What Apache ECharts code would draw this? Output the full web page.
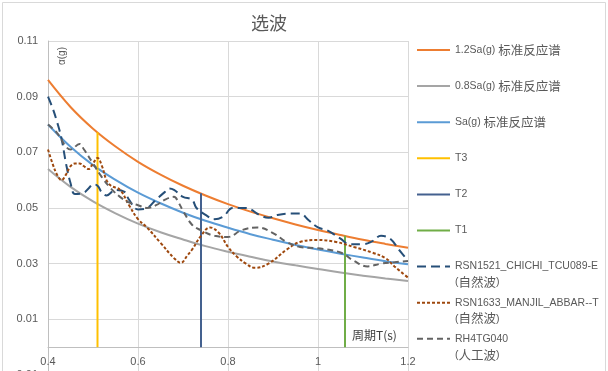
<!DOCTYPE html>
<html><head><meta charset="utf-8">
<script src="https://cdn.jsdelivr.net/npm/echarts@6/dist/echarts.min.js"></script>
<style>html,body{margin:0;padding:0;background:#fff}#c{width:608px;height:371px}</style>
</head><body><div id="c"></div>
<script>
const chartTitle = '选波';
const xAxisName = '周期T(s)';
const yAxisName = 'α(g)';
const xTicks = [0.4, 0.6, 0.8, 1.0, 1.2];
const yTicks = [-0.01, 0.01, 0.03, 0.05, 0.07, 0.09, 0.11];

const specT = [0.40,0.45,0.50,0.55,0.60,0.65,0.70,0.75,0.80,0.85,0.90,0.95,1.00,1.05,1.10,1.15,1.20];
const sa12 = [0.0960,0.0863,0.0785,0.0721,0.0666,0.0620,0.0580,0.0545,0.0514,0.0487,0.0463,0.0441,0.0421,0.0403,0.0386,0.0371,0.0357];
const sa08 = [0.0640,0.0576,0.0524,0.0481,0.0444,0.0413,0.0387,0.0363,0.0343,0.0325,0.0308,0.0294,0.0281,0.0268,0.0257,0.0247,0.0238];
const sa10 = [0.0800,0.0720,0.0654,0.0601,0.0555,0.0517,0.0483,0.0454,0.0429,0.0406,0.0386,0.0367,0.0351,0.0336,0.0322,0.0309,0.0298];

const vNames = ['T3', 'T2', 'T1'];
const vT = [0.51, 0.74, 1.06];
const vTop = [0.0772, 0.0553, 0.0400];

const chichiT = [0.40,0.41,0.42,0.43,0.44,0.45,0.46,0.48,0.49,0.50,0.51,0.52,0.53,0.55,0.57,0.58,0.60,0.62,0.64,0.66,0.67,0.68,0.70,0.72,0.73,0.75,0.77,0.79,0.81,0.84,0.87,0.89,0.91,0.94,0.96,0.98,1.00,1.02,1.05,1.07,1.10,1.12,1.14,1.16,1.18,1.20];
const chichiV = [0.090,0.086,0.081,0.075,0.066,0.059,0.055,0.0555,0.057,0.0585,0.058,0.0555,0.0545,0.0565,0.0558,0.053,0.0495,0.050,0.053,0.0558,0.057,0.0565,0.054,0.053,0.050,0.0475,0.046,0.047,0.050,0.050,0.0475,0.0465,0.0475,0.048,0.048,0.0455,0.043,0.042,0.039,0.037,0.037,0.038,0.040,0.039,0.035,0.031];

const manjilT = [0.40,0.41,0.42,0.43,0.44,0.45,0.46,0.47,0.48,0.49,0.50,0.51,0.52,0.53,0.54,0.56,0.58,0.60,0.62,0.65,0.68,0.695,0.71,0.72,0.74,0.76,0.78,0.80,0.82,0.84,0.86,0.89,0.93,0.96,1.00,1.04,1.08,1.12,1.15,1.17,1.20];
const manjilV = [0.071,0.066,0.062,0.060,0.062,0.065,0.066,0.066,0.065,0.064,0.066,0.068,0.065,0.060,0.058,0.0565,0.051,0.046,0.043,0.0375,0.032,0.0303,0.033,0.035,0.040,0.043,0.041,0.036,0.0325,0.030,0.0285,0.030,0.035,0.0378,0.0385,0.0378,0.036,0.034,0.032,0.029,0.025];

const rhT = [0.40,0.42,0.43,0.44,0.45,0.47,0.48,0.50,0.52,0.54,0.56,0.58,0.60,0.62,0.64,0.66,0.68,0.69,0.70,0.72,0.74,0.77,0.80,0.83,0.865,0.90,0.93,0.96,1.00,1.05,1.08,1.11,1.14,1.17,1.20];
const rhV = [0.080,0.077,0.0745,0.072,0.071,0.073,0.071,0.066,0.061,0.057,0.054,0.052,0.051,0.050,0.051,0.053,0.054,0.052,0.049,0.044,0.042,0.040,0.0396,0.042,0.043,0.041,0.0378,0.036,0.0355,0.034,0.031,0.029,0.030,0.0305,0.031];

const seriesNames = ['1.2Sa(g) 标准反应谱','0.8Sa(g) 标准反应谱','Sa(g) 标准反应谱','T3','T2','T1','RSN1521_CHICHI_TCU089-E\n(自然波)','RSN1633_MANJIL_ABBAR--T\n(自然波)','RH4TG040\n(人工波)'];
const seriesColors = ['#ED7D31','#A5A5A5','#5B9BD5','#FFC000','#44618F','#70AD47','#264F78','#9E480E','#636363'];
const seriesDash = ['solid','solid','solid','solid','solid','solid',[9,5],[3,2],[6,4]];

const pairs = (xs, ys) => xs.map((x, i) => [x, ys[i]]);
const LAT = 'Liberation Sans, Arial, sans-serif';
const CJK = 'Noto Sans CJK SC, sans-serif';
const GRID = {left: 48, top: 41, width: 360, height: 334};
// distance from the grid bottom (y = -0.01) up to the y = 0 line
const zeroOffset = -GRID.height * (0 - yTicks[0]) / (yTicks[yTicks.length - 1] - yTicks[0]);

const series = [];
[sa12, sa08, sa10].forEach((arr, i) => {
  series.push({name: seriesNames[i], type: 'line', data: pairs(specT, arr), smooth: 0.4, showSymbol: false,
    lineStyle: {color: seriesColors[i], width: 2}, z: 2 + i});
});
vT.forEach((t, i) => {
  series.push({name: seriesNames[3 + i], type: 'line', data: [[t, 0], [t, vTop[i]]], showSymbol: false,
    lineStyle: {color: seriesColors[3 + i], width: 2}, z: 5});
});
[[chichiT, chichiV], [manjilT, manjilV], [rhT, rhV]].forEach((d, i) => {
  series.push({name: seriesNames[6 + i], type: 'line', data: pairs(d[0], d[1]), smooth: 0.4, showSymbol: false,
    lineStyle: {color: seriesColors[6 + i], width: 2, type: seriesDash[6 + i]}, z: 6 + i});
});

function richLine(s) {
  return s.replace(/([\u4e00-\u9fff]+)|([^\u4e00-\u9fff]+)/g, (m, c, a) => c ? '{c|' + c + '}' : '{a|' + a + '}');
}
const legendRich = {a: {fontSize: 10.5, fontFamily: LAT, fill: '#595959'}, c: {fontSize: 12.5, fontFamily: CJK, fill: '#595959'}};
const graphics = [
  {type: 'rect', shape: {x: 2.5, y: 2.5, width: 603, height: 420}, style: {fill: 'none', stroke: '#D9D9D9', lineWidth: 1}, silent: true},
  {type: 'text', x: 62, y: 56, rotation: Math.PI / 2, style: {text: yAxisName, font: '10px ' + LAT, fill: '#595959', align: 'center', verticalAlign: 'middle'}},
  {type: 'text', x: 352, y: 335, style: {text: xAxisName, font: '12px ' + CJK, fill: '#404040', align: 'left', verticalAlign: 'middle'}}
];
seriesNames.forEach((name, i) => {
  const y = 50 + i * 36.1;
  graphics.push({type: 'line', shape: {x1: 417, y1: y, x2: 450, y2: y},
    style: {stroke: seriesColors[i], lineWidth: 2, lineDash: seriesDash[i] === 'solid' ? null : seriesDash[i]}});
  name.split('\n').forEach((ln, k) => {
    graphics.push({type: 'text', x: 455, y: y + k * 16, style: {text: richLine(ln), rich: legendRich, verticalAlign: 'middle', align: 'left'}});
  });
});

const chart = echarts.init(document.getElementById('c'), null, {renderer: 'canvas'});
chart.setOption({
  animation: false,
  backgroundColor: '#fff',
  title: {text: chartTitle, left: 246, top: 9, textStyle: {fontSize: 18, fontWeight: 'normal', color: '#595959', fontFamily: CJK}},
  grid: Object.assign({containLabel: false, outerBoundsMode: 'none'}, GRID),
  xAxis: {type: 'value', min: xTicks[0], max: xTicks[xTicks.length - 1], interval: 0.2, offset: zeroOffset,
    axisLine: {onZero: false, lineStyle: {color: '#BFBFBF', width: 1}}, axisTick: {show: false},
    axisLabel: {color: '#595959', fontSize: 11, fontFamily: LAT, margin: 9, formatter: v => String(+v.toFixed(2))},
    splitLine: {show: true, lineStyle: {color: '#D9D9D9', width: 1}}},
  yAxis: {type: 'value', min: yTicks[0], max: yTicks[yTicks.length - 1], interval: 0.02,
    axisLine: {show: true, lineStyle: {color: '#BFBFBF', width: 1}}, axisTick: {show: false},
    axisLabel: {color: '#595959', fontSize: 11, fontFamily: LAT, margin: 10, formatter: v => String(+v.toFixed(2))},
    splitLine: {show: true, lineStyle: {color: '#D9D9D9', width: 1}}},
  series: series,
  graphic: graphics
});
</script></body></html>
